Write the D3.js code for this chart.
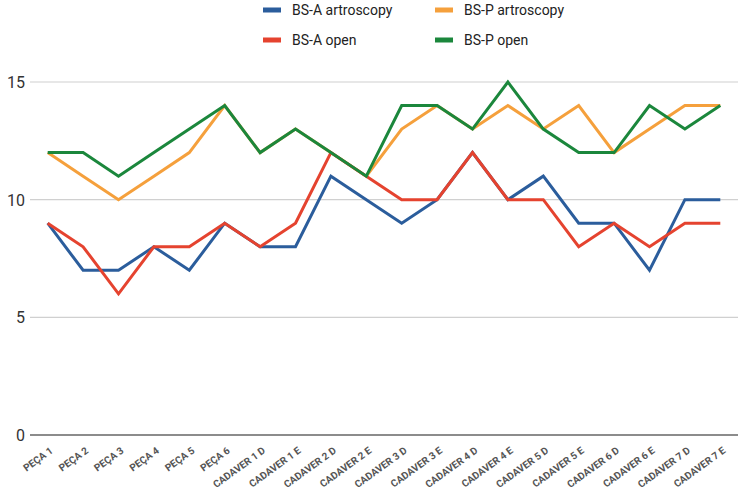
<!DOCTYPE html>
<html><head><meta charset="utf-8">
<script src="https://cdn.jsdelivr.net/npm/d3@7"></script>
<style>body{margin:0;background:#fff}svg{font-family:Roboto,"Noto Sans",sans-serif}</style>
</head><body><svg id="c" width="743" height="490"></svg>
<script>
const categories=["PEÇA 1","PEÇA 2","PEÇA 3","PEÇA 4","PEÇA 5","PEÇA 6","CADAVER 1 D","CADAVER 1 E","CADAVER 2 D","CADAVER 2 E","CADAVER 3 D","CADAVER 3 E","CADAVER 4 D","CADAVER 4 E","CADAVER 5 D","CADAVER 5 E","CADAVER 6 D","CADAVER 6 E","CADAVER 7 D","CADAVER 7 E"];
const bsaArtro=[9,7,7,8,7,9,8,8,11,10,9,10,12,10,11,9,9,7,10,10];
const bspArtro=[12,11,10,11,12,14,12,13,12,11,13,14,13,14,13,14,12,13,14,14];
const bsaOpen=[9,8,6,8,8,9,8,9,12,11,10,10,12,10,10,8,9,8,9,9];
const bspOpen=[12,12,11,12,13,14,12,13,12,11,14,14,13,15,13,12,12,14,13,14];
const yTicks=[0,5,10,15];
const seriesNames=["BS-A artroscopy","BS-P artroscopy","BS-A open","BS-P open"];
const colors=["#2b5d9c","#f5a03c","#e5432f","#1b873c"];
const series=[
 {name:seriesNames[0],values:bsaArtro,color:colors[0]},
 {name:seriesNames[1],values:bspArtro,color:colors[1]},
 {name:seriesNames[2],values:bsaOpen,color:colors[2]},
 {name:seriesNames[3],values:bspOpen,color:colors[3]}
];
const svg=d3.select("#c");
const x=d3.scaleBand().domain(categories).range([30,738]);
const y=d3.scaleLinear().domain([0,15]).range([435,82]);
// grid
svg.append("g").selectAll("line").data(yTicks).join("line")
 .attr("x1",30).attr("x2",738).attr("y1",d=>y(d)).attr("y2",d=>y(d))
 .attr("stroke",d=>d===0?"#666":"#d0d0d0").attr("stroke-width",d=>d===0?1.3:1.2);
svg.append("g").selectAll("text").data(yTicks).join("text")
 .attr("x",25).attr("y",d=>y(d)+6).attr("text-anchor","end")
 .attr("font-size",16).attr("fill","#333").text(d=>d);
// x labels
svg.append("g").selectAll("text").data(categories).join("text")
 .attr("transform",d=>`translate(${x(d)+x.bandwidth()/2+6},${452}) rotate(-36)`)
 .attr("text-anchor","end").attr("font-size",10).attr("font-weight","bold")
 .attr("fill","#555").text(d=>d);
// lines
const line=d3.line().x((d,i)=>x(categories[i])+x.bandwidth()/2).y(d=>y(d));
svg.append("g").selectAll("path").data(series).join("path")
 .attr("d",d=>line(d.values)).attr("fill","none").attr("stroke",d=>d.color)
 .attr("stroke-width",3).attr("stroke-linejoin","miter");
// legend
const leg=[[0,263,10],[1,435,10],[2,263,40],[3,435,40]];
const lg=svg.append("g");
leg.forEach(([i,lx,ly])=>{
 lg.append("rect").attr("x",lx).attr("y",ly-2.5).attr("width",18).attr("height",5).attr("fill",colors[i]);
 lg.append("text").attr("x",lx+29).attr("y",ly+5).attr("font-size",14).attr("fill","#222").text(seriesNames[i]);
});
</script></body></html>
